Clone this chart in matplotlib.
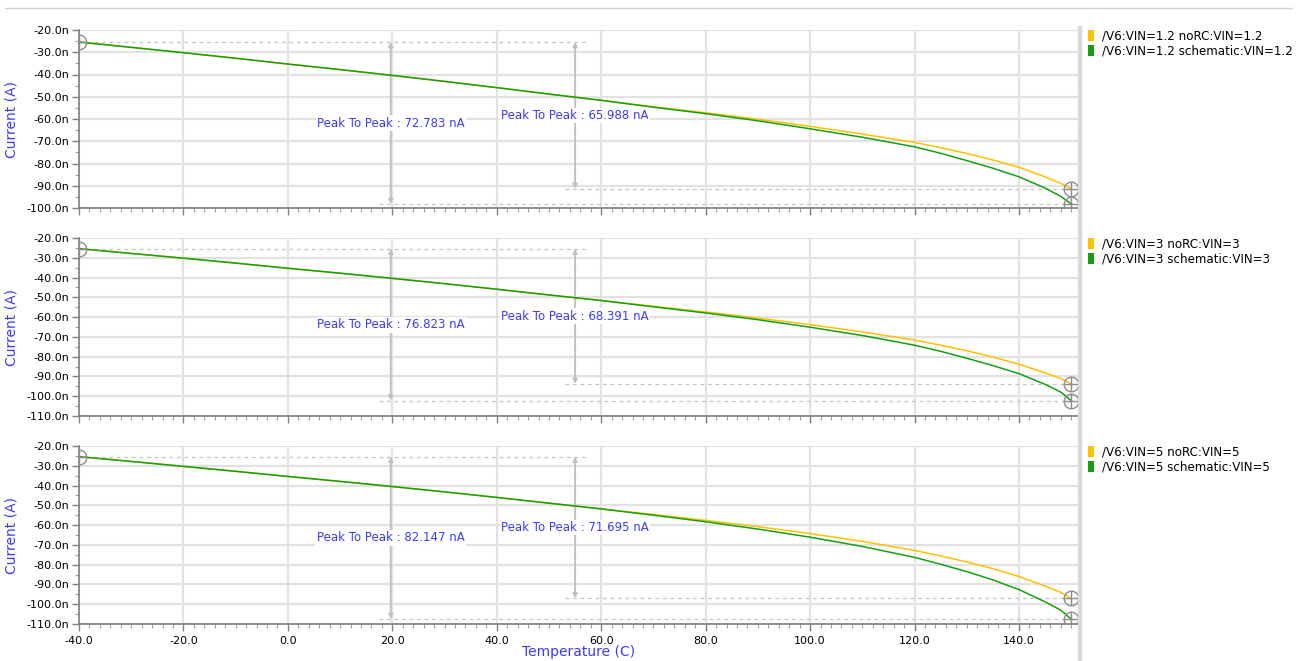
import numpy as np
import matplotlib
matplotlib.use("Agg")
import matplotlib.pyplot as plt
from matplotlib.ticker import MultipleLocator, FuncFormatter
from matplotlib.patches import Patch
from matplotlib.lines import Line2D

# temperatures (C)
temp = [-40, -30, -20, -10, 0, 10, 20, 30, 40, 50, 60, 70, 80, 90, 100, 110,
        120, 125, 130, 135, 140, 145, 148, 150]

# currents in nA
norc_12 = [-25.4, -27.8, -30.2, -32.7, -35.3, -37.8, -40.4, -43.1, -45.9, -48.8, -51.6, -54.5,
           -57.2, -60.1, -63.3, -66.8, -70.5, -72.9, -75.5, -78.4, -81.7, -86.0, -88.9, -91.4]
sch_12 = [-25.4, -27.8, -30.2, -32.7, -35.3, -37.8, -40.4, -43.1, -45.9, -48.8, -51.6, -54.7,
          -57.6, -60.8, -64.4, -68.2, -72.5, -75.4, -78.7, -82.1, -86.0, -91.0, -94.8, -98.2]
norc_3 = [-25.4, -27.8, -30.2, -32.7, -35.3, -37.8, -40.4, -43.1, -45.9, -48.8, -51.6, -54.5,
          -57.4, -60.5, -63.8, -67.5, -71.6, -74.2, -77.0, -80.2, -83.8, -88.2, -91.0, -93.8]
sch_3 = [-25.4, -27.8, -30.2, -32.7, -35.3, -37.8, -40.4, -43.1, -45.9, -48.8, -51.6, -54.8,
         -57.9, -61.3, -65.1, -69.3, -74.2, -77.3, -80.8, -84.5, -88.6, -94.0, -97.9, -102.2]
norc_5 = [-25.4, -27.8, -30.3, -32.8, -35.4, -37.9, -40.5, -43.2, -46.0, -48.9, -51.8, -54.6,
          -57.6, -60.8, -64.3, -68.2, -72.8, -75.6, -78.6, -82.0, -86.0, -90.8, -94.0, -97.1]
sch_5 = [-25.4, -27.8, -30.3, -32.8, -35.4, -37.9, -40.5, -43.2, -46.0, -48.9, -51.8, -55.0,
         -58.3, -62.0, -66.1, -70.8, -76.3, -79.8, -83.5, -87.7, -92.6, -98.8, -103.0, -107.5]

vin_labels = ["1.2", "3", "5"]
ptp_sch = ["72.783", "76.823", "82.147"]
ptp_norc = ["65.988", "68.391", "71.695"]
ylims = [(-100, -20), (-110, -20), (-110, -20)]
panels = [(norc_12, sch_12), (norc_3, sch_3), (norc_5, sch_5)]

YEL = "#ffc000"
GRN = "#12a012"
BLUE = "#3a3aff"
GRID = "#e2e2e2"
AX = "#808080"

W, H = 1305, 661
fig = plt.figure(figsize=(W / 100, H / 100), dpi=100)
plt.rcParams["font.family"] = ["DejaVu Sans"]

tops = [30, 238, 446]
ph = 178
left, right = 79, 1078

for i, (norc, sch) in enumerate(panels):
    ax = fig.add_axes([left / W, (H - tops[i] - ph) / H, (right - left) / W, ph / H])
    ax.set_xlim(-40, 151.3)
    ax.set_ylim(*ylims[i])

    ax.plot(temp, norc, color=YEL, lw=1.1, zorder=3)
    ax.plot(temp, sch, color=GRN, lw=1.1, zorder=4)

    # cursor markers
    for (xx, yy) in [(temp[0], sch[0]), (temp[-1], norc[-1]), (temp[-1], sch[-1])]:
        ax.plot([xx], [yy], marker="o", ms=10.5, mfc="none", mec="#8c8c8c", mew=1.0, zorder=5)
        ax.plot([xx], [yy], marker="+", ms=10.5, mec="#8c8c8c", mew=1.0, zorder=5)

    # peak to peak guides
    start = sch[0]
    ax.plot([-40, 57], [start, start], ls=(0, (3, 3)), color="#c4c4c4", lw=0.9, zorder=2)
    ax.plot([17.5, 151.3], [sch[-1], sch[-1]], ls=(0, (3, 3)), color="#c4c4c4", lw=0.9, zorder=2)
    ax.plot([53, 151.3], [norc[-1], norc[-1]], ls=(0, (3, 3)), color="#c4c4c4", lw=0.9, zorder=2)

    for xa, yend, val in [(19.7, sch[-1], ptp_sch[i]), (55, norc[-1], ptp_norc[i])]:
        ax.annotate("", xy=(xa, yend), xytext=(xa, start),
                    arrowprops=dict(arrowstyle="<|-|>", color="#c0c0c0", lw=1.4,
                                    mutation_scale=6, shrinkA=0, shrinkB=0), zorder=2)
        ax.text(xa, (start + yend) / 2, "Peak To Peak : %s nA" % val, color=BLUE,
                fontsize=8.5, ha="center", va="center", zorder=6,
                bbox=dict(facecolor="white", edgecolor="none", pad=1.0))

    # axes styling
    ax.xaxis.set_major_locator(MultipleLocator(20))
    ax.xaxis.set_minor_locator(MultipleLocator(2))
    ax.yaxis.set_major_locator(MultipleLocator(10))
    ax.yaxis.set_minor_locator(MultipleLocator(5))
    ax.yaxis.set_major_formatter(FuncFormatter(lambda v, p: "%.1fn" % v))
    ax.xaxis.set_major_formatter(FuncFormatter(lambda v, p: "%.1f" % v))
    ax.grid(True, which="major", color=GRID, lw=1.6, zorder=0)
    ax.set_axisbelow(True)
    for s in ["top", "right"]:
        ax.spines[s].set_visible(False)
    for s in ["left", "bottom"]:
        ax.spines[s].set_color(AX)
        ax.spines[s].set_linewidth(1.2)
    ax.tick_params(which="major", length=5, width=1, color=AX, labelsize=8, pad=2)
    ax.tick_params(which="minor", length=3, width=0.8, color="#a0a0a0")
    if i < 2:
        ax.tick_params(axis="x", labelbottom=False)
    else:
        ax.tick_params(axis="x", pad=4)
        ax.set_xlabel("Temperature (C)", color=BLUE, fontsize=10, labelpad=-1)
    ax.set_ylabel("Current (A)", color=BLUE, fontsize=10, labelpad=6)

    handles = [Patch(facecolor=YEL, edgecolor="none"), Patch(facecolor=GRN, edgecolor="none")]
    names = ["/V6:VIN=%s noRC:VIN=%s" % (vin_labels[i], vin_labels[i]),
             "/V6:VIN=%s schematic:VIN=%s" % (vin_labels[i], vin_labels[i])]
    ax.legend(handles, names, loc="upper left", bbox_to_anchor=(1.005, 1.03), frameon=False,
              fontsize=8.6, handlelength=0.55, handleheight=1.1, handletextpad=0.6,
              labelspacing=0.2, borderaxespad=0.0)

# window frame lines
fig.add_artist(Line2D([5 / W, 1292 / W], [1 - 8 / H, 1 - 8 / H], color="#d4d4d4", lw=1.0))
fig.add_artist(Line2D([1080 / W, 1080 / W], [0, 1 - 28 / H], color="#dadada", lw=3.0))

fig.savefig("out.png", dpi=100)
